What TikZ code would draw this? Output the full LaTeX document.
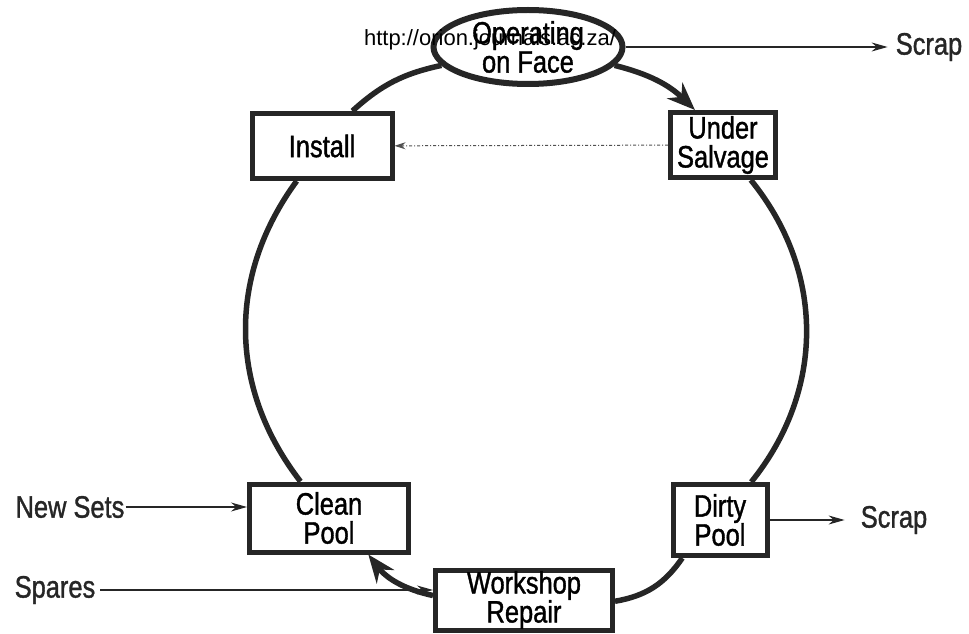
\documentclass[tikz,border=0pt]{standalone}
\usepackage{fontspec}
\setmainfont{Liberation Sans}
\newfontfamily\tallsans{Liberation Sans}[FakeStretch=0.82, FakeBold=1.2]
\usetikzlibrary{arrows.meta,shapes.geometric}
\definecolor{cInk}{HTML}{262626}
\tikzset{
  x=1pt, y=1pt,
  >={Stealth[length=16pt, width=9pt]},
  font=\tallsans\fontsize{31}{29}\selectfont,
  stagebox/.style={draw=cInk, line width=5pt, fill=white, align=center, inner sep=0pt},
  lbl/.style={inner sep=0pt, text=cInk},
  thinarr/.style={->, cInk, line width=1.1pt},
}

\begin{document}
\begin{tikzpicture}[
      cyc/.style={cInk, line width=5.5pt},
      cycarr/.style={cyc, -{Stealth[length=28pt, width=22pt]}},
      salv/.style={cInk!80, line width=1pt, dash dot, -{Stealth[length=11pt, width=7pt]}}
    ]
    \useasboundingbox (0,0) rectangle (969,633);
    % stages round the cycle
    \node[stagebox, ellipse, line width=6pt, minimum width=189, minimum height=74] (op) at (528,586) {Operating\\on Face};
    \node[stagebox, minimum width=140, minimum height=65] (inst) at (322,487) {Install};
    \node[stagebox, minimum width=105, minimum height=65] (us) at (723,488) {Under\\Salvage};
    \node[stagebox, minimum width=159, minimum height=68] (cp) at (329,115) {Clean\\Pool};
    \node[stagebox, minimum width=94, minimum height=71] (dp) at (720,113) {Dirty\\Pool};
    \node[stagebox, minimum width=177, minimum height=60] (wr) at (524,33) {Workshop\\Repair};
    % outside sources and sinks
    \node[lbl] (scrapTop) at (929,586) {Scrap};
    \node[lbl] (scrapPool) at (894,113) {Scrap};
    \node[lbl, inner sep=1pt] (newSets) at (70,126) {New Sets};
    \node[lbl, inner sep=5pt] (spares) at (55,43) {Spares};
    % the cycle, lines stop at the borders
    \draw[cycarr] (op.-12) to[bend left=15] (us);
    \draw[cyc] (us) to[bend left=39] (dp);
    \draw[cyc] (dp) to[bend left=23] (wr);
    \draw[cycarr] (wr) to[bend left=20] (cp);
    \draw[cyc] (cp) to[bend left=37] (inst);
    \draw[cyc] (inst) to[bend left=15] (op.192);
    % side flows
    \draw[salv] (us) -- (inst);
    \draw[thinarr, shorten >=8pt] (op) -- (scrapTop);
    \draw[thinarr, shorten >=16pt] (dp) -- (scrapPool);
    \draw[thinarr] (newSets.east) -- (newSets -| cp.west);
    \draw[thinarr] (spares.east) -- (spares -| wr.west);
    % watermark
    \node[font=\fontsize{22}{24}\selectfont, inner sep=0pt] (url) at (490,593) {http://orion.journals.ac.za/};
  \end{tikzpicture}
\end{document}
